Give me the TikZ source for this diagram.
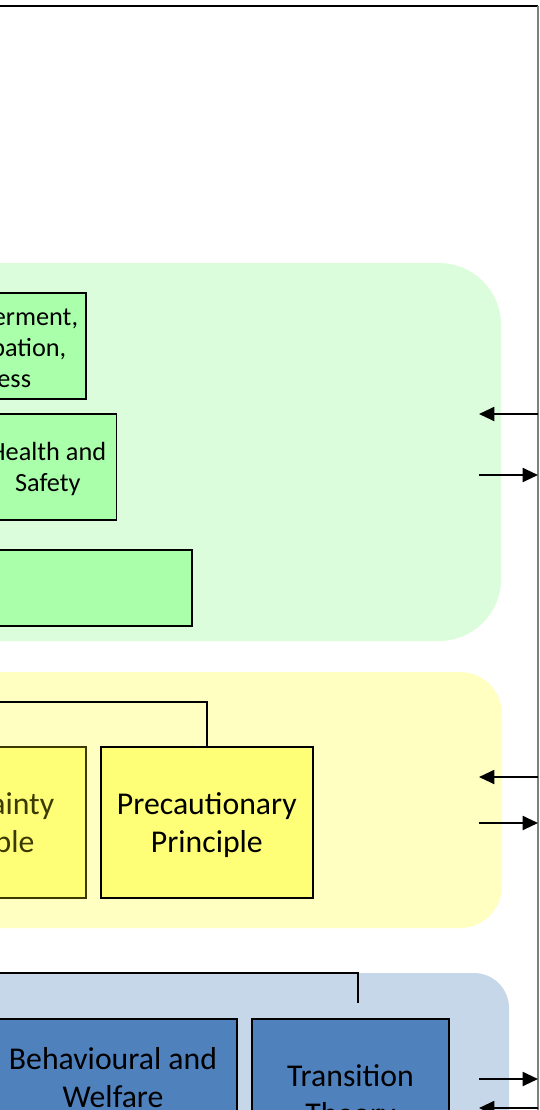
\documentclass[tikz,border=0pt]{standalone}
\usepackage{fontspec}
\setmainfont{Carlito}
\usetikzlibrary{arrows.meta}
\definecolor{greenbg}{HTML}{DBFDDB}
\definecolor{greenbox}{HTML}{AAFFAA}
\definecolor{yellowbg}{HTML}{FFFFC2}
\definecolor{yellowbox}{HTML}{FFFF77}
\definecolor{olive}{HTML}{3A3A00}
\definecolor{bluebg}{HTML}{C6D7E9}
\definecolor{bluebox}{HTML}{4F81BD}
\definecolor{frameline}{HTML}{7F7F7F}
\newcommand\fsGreen{\fontsize{19.7}{23.2}\selectfont}
\newcommand\fsBig{\fontsize{23.8}{28.5}\selectfont}
\tikzset{
  panel/.style={draw=none, inner sep=0pt},
  boxnode/.style={draw=black, line width=1.3pt, inner sep=0pt, align=center},
  txt/.style={inner sep=0pt, align=center},
  conn/.style={draw=black, line width=1pt},
  arr/.style={draw=black, line width=1.5pt, -{Triangle[length=11.5pt,width=10.5pt]}},
}
\begin{document}
\begin{tikzpicture}[x=0.75pt,y=-0.75pt]
\useasboundingbox (0,0) rectangle (539,1110);
\clip (0,0) rectangle (539,1110);
% frame
\coordinate (tl) at (-5,6);
\coordinate (tr) at (538,6);
\coordinate (br) at (538,1115);
\draw[black, line width=1.7pt] (tl) -- (tr);
\draw[frameline, line width=1.2pt] (tr) -- (br);

% panels
\node[panel, fill=greenbg, rounded corners=46.5pt, minimum width=525.75pt, minimum height=283.5pt] (gpanel) at (150.5,452) {};
\node[panel, fill=yellowbg, rounded corners=31.5pt, minimum width=526.5pt, minimum height=192pt] (ypanel) at (151,800) {};
\node[panel, fill=bluebg, rounded corners=26.25pt, minimum width=531.75pt, minimum height=207.75pt] (bpanel) at (154.5,1111.5) {};

% green boxes
\node[boxnode, fill=greenbox, minimum width=135.75pt, minimum height=79.5pt] (access) at (-4.5,346) {};
\node[txt, font=\fsGreen] (accesstxt) at (-4.5,348) {Empowerment,\\Participation,\\Access};
\node[boxnode, fill=greenbox, minimum width=103.1pt, minimum height=79.5pt] (health) at (47.75,467) {};
\node[txt, font=\fsGreen] (healthtxt) at (47.75,469) {Health and\\Safety};
\node[boxnode, fill=greenbox, minimum width=219pt, minimum height=57pt] (gthird) at (46,588) {};

% yellow boxes
\node[boxnode, draw=olive, fill=yellowbox, minimum width=161.25pt, minimum height=113.25pt] (uncert) at (-21.5,822.5) {};
\node[txt, text=olive, font=\fsBig] (uncerttxt) at (-21.5,825) {Uncertainty\\Principle};
\node[boxnode, fill=yellowbox, minimum width=159.2pt, minimum height=113.25pt] (prec) at (206.85,822.5) {};
\node[txt, font=\fsBig] (prectxt) at (206.85,825.5) {Precautionary\\Principle};
\coordinate (yleft) at (-10,702);
\draw[conn] (yleft) -| (prec.north);

% blue boxes
\node[boxnode, fill=bluebox, minimum width=186pt, minimum height=115.5pt] (behav) at (113,1096) {};
\node[txt, font=\fsBig] (behavtxt) at (113,1078) {Behavioural and\\Welfare};
\node[boxnode, fill=bluebox, minimum width=147.75pt, minimum height=115.5pt] (trans) at (350.5,1096) {};
\node[txt, font=\fsBig] (transtxt) at (350.5,1097) {Transition\\Theory};
\coordinate (bleft) at (-10,973);
\coordinate (bdrop) at (358,1003);
\draw[conn] (bleft) -| (bdrop);

% arrows on the right
\coordinate (ga1) at (538,414); \coordinate (ga1e) at (479,414);
\coordinate (ga2) at (479,475); \coordinate (ga2e) at (538,475);
\coordinate (ya1) at (538,777); \coordinate (ya1e) at (479,777);
\coordinate (ya2) at (479,823); \coordinate (ya2e) at (538,823);
\coordinate (ba1) at (479,1079); \coordinate (ba1e) at (538,1079);
\coordinate (ba2) at (538,1108); \coordinate (ba2e) at (479,1108);
\draw[arr] (ga1) -- (ga1e);
\draw[arr] (ga2) -- (ga2e);
\draw[arr] (ya1) -- (ya1e);
\draw[arr] (ya2) -- (ya2e);
\draw[arr] (ba1) -- (ba1e);
\draw[arr] (ba2) -- (ba2e);
\end{tikzpicture}
\end{document}
